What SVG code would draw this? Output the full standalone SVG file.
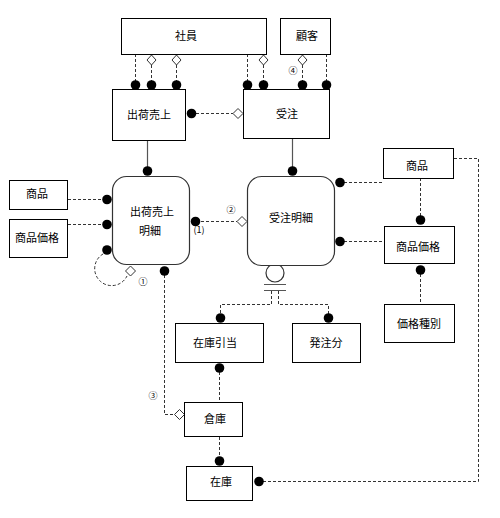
<svg xmlns="http://www.w3.org/2000/svg" width="500" height="518" viewBox="0 0 500 518">
<style>
.box{fill:#fff;stroke:#000;stroke-width:1}
.rbox{fill:#fff;stroke:#333;stroke-width:1.2}
.t{font-family:"Noto Sans CJK JP","Liberation Sans",sans-serif;font-size:11px;fill:#000;text-anchor:middle;dominant-baseline:central}
.n{font-family:"Noto Sans CJK JP","Liberation Sans",sans-serif;font-size:9px;fill:#000;text-anchor:middle;dominant-baseline:central}
.d{fill:none;stroke:#333;stroke-width:1;stroke-dasharray:3,2}
.s{fill:none;stroke:#555;stroke-width:1.2}
.dot{fill:#000}
.dia{fill:#fff;stroke:#333;stroke-width:1}
</style>
<rect width="500" height="518" fill="#fff"/>
<g id="connectors">
  <!-- 社員 -> 出荷売上 / 受注 -->
  <path class="d" d="M135.5,54 V81"/>
  <path class="d" d="M151.5,65 V81"/>
  <path class="d" d="M176.5,65 V81"/>
  <path class="d" d="M247.5,54 V81"/>
  <path class="d" d="M263.5,65 V81"/>
  <polygon class="dia" points="151.5,55 156,60 151.5,65 147,60"/>
  <polygon class="dia" points="176.5,55 181,60 176.5,65 172,60"/>
  <polygon class="dia" points="263.5,55 268,60 263.5,65 259,60"/>
  <circle class="dot" cx="135.5" cy="85" r="4.8"/>
  <circle class="dot" cx="151.5" cy="85" r="4.8"/>
  <circle class="dot" cx="176.5" cy="85" r="4.8"/>
  <circle class="dot" cx="247.5" cy="85" r="4.8"/>
  <circle class="dot" cx="263.5" cy="85" r="4.8"/>
  <!-- 顧客 -> 受注 -->
  <path class="d" d="M302.5,65 V81"/>
  <path class="d" d="M326.5,54 V81"/>
  <polygon class="dia" points="302.5,55 307,60 302.5,65 298,60"/>
  <circle class="dot" cx="302.5" cy="85" r="4.8"/>
  <circle class="dot" cx="326.5" cy="85" r="4.8"/>
  <!-- 出荷売上 -> 受注 -->
  <path class="d" d="M196,113.5 H233"/>
  <circle class="dot" cx="191.5" cy="113.5" r="4.8"/>
  <polygon class="dia" points="233,113.5 238,108.5 243,113.5 238,118.5"/>
  <!-- solid -->
  <path class="s" d="M147.5,141 V167"/>
  <circle class="dot" cx="147.5" cy="171" r="4.8"/>
  <path class="s" d="M292.5,139 V167"/>
  <circle class="dot" cx="292.5" cy="171" r="4.8"/>
  <!-- 商品/商品価格 (left) -> 出荷売上明細 -->
  <path class="d" d="M68,199.5 H103"/>
  <circle class="dot" cx="107" cy="199.5" r="4.8"/>
  <path class="d" d="M68,224.5 H103"/>
  <circle class="dot" cx="107" cy="224.5" r="4.8"/>
  <!-- self loop -->
  <path class="d" d="M103,254 A17,17 0 1 0 127,276"/>
  <circle class="dot" cx="107" cy="250" r="4.8"/>
  <polygon class="dia" points="130.5,266 135.5,271 130.5,276 125.5,271"/>
  <!-- 出荷売上明細 -> 受注明細 -->
  <path class="d" d="M196,221.5 H237"/>
  <circle class="dot" cx="195.5" cy="221.5" r="4.8"/>
  <polygon class="dia" points="237,221.5 242,216.5 247,221.5 242,226.5"/>
  <!-- 出荷売上明細 -> 倉庫 -->
  <path class="d" d="M164.5,275 V414.5 H175"/>
  <circle class="dot" cx="164.5" cy="271" r="4.8"/>
  <polygon class="dia" points="174.5,414.5 179.5,409.5 184.5,414.5 179.5,419.5"/>
  <!-- 受注明細 -> 商品 / 商品価格 -->
  <path class="d" d="M344,182.5 H383"/>
  <circle class="dot" cx="340" cy="182.5" r="4.8"/>
  <path class="d" d="M344,241.5 H384"/>
  <circle class="dot" cx="340" cy="241.5" r="4.8"/>
  <!-- 商品 -> 商品価格 -> 価格種別 -->
  <path class="d" d="M420.5,178 V216"/>
  <circle class="dot" cx="420.5" cy="220" r="4.8"/>
  <path class="d" d="M420.5,274 V304"/>
  <circle class="dot" cx="420.5" cy="270" r="4.8"/>
  <!-- 商品 -> 在庫 -->
  <path class="d" d="M454,158.5 H478.5 V481.5 H263"/>
  <circle class="dot" cx="259" cy="481.5" r="4.8"/>
  <!-- subtype -->
  <circle cx="275" cy="273" r="9" fill="#fff" stroke="#333" stroke-width="1.2"/>
  <path class="s" d="M264,284.5 H286 M264,290.5 H286"/>
  <path class="d" d="M271.5,291 V304.5 H220.5 V314"/>
  <path class="d" d="M278.5,291 V304.5 H328.5 V314"/>
  <circle class="dot" cx="220.5" cy="318" r="4.8"/>
  <circle class="dot" cx="328.5" cy="318" r="4.8"/>
  <!-- 在庫引当 -> 倉庫 -> 在庫 -->
  <path class="d" d="M219.5,372 V402"/>
  <circle class="dot" cx="219.5" cy="368" r="4.8"/>
  <path class="d" d="M219.5,437 V457"/>
  <circle class="dot" cx="219.5" cy="461" r="4.8"/>
  <!-- labels -->
  <text class="n" x="293" y="70">④</text>
  <text class="n" x="143" y="281">①</text>
  <text class="n" x="231" y="209">②</text>
  <text class="n" x="199" y="229">(1)</text>
  <text class="n" x="153" y="395">③</text>
</g>
<g id="shain"><rect class="box" x="121.5" y="18.5" width="145" height="36"/><text class="t" x="186" y="35">社員</text></g>
<g id="kokyaku"><rect class="box" x="280.5" y="18.5" width="50" height="36"/><text class="t" x="307" y="35">顧客</text></g>
<g id="shukka"><rect class="box" x="112.5" y="89.5" width="73" height="51"/><text class="t" x="149" y="114">出荷売上</text></g>
<g id="juchu"><rect class="box" x="243.5" y="89.5" width="86" height="49"/><text class="t" x="287" y="113">受注</text></g>
<g id="shohinL"><rect class="box" x="9.5" y="180.5" width="58" height="29"/><text class="t" x="37" y="193">商品</text></g>
<g id="kakakuL"><rect class="box" x="9.5" y="219.5" width="58" height="38"/><text class="t" x="37" y="237">商品価格</text></g>
<g id="shukkameisai"><rect class="rbox" x="112.5" y="176.5" width="77" height="88" rx="14"/><text class="t" x="152" y="211">出荷売上</text><text class="t" x="150" y="230">明細</text></g>
<g id="juchumeisai"><rect class="rbox" x="247.5" y="176.5" width="87" height="89" rx="14"/><text class="t" x="291" y="217">受注明細</text></g>
<g id="shohinR"><rect class="box" x="383.5" y="148.5" width="70" height="30"/><text class="t" x="417" y="165">商品</text></g>
<g id="kakakuR"><rect class="box" x="384.5" y="226.5" width="70" height="37"/><text class="t" x="418" y="246">商品価格</text></g>
<g id="kakakushubetsu"><rect class="box" x="384.5" y="304.5" width="70" height="38"/><text class="t" x="419" y="323">価格種別</text></g>
<g id="zaikohikiate"><rect class="box" x="175.5" y="323.5" width="88" height="39"/><text class="t" x="215" y="342">在庫引当</text></g>
<g id="hacchubun"><rect class="box" x="292.5" y="323.5" width="68" height="39"/><text class="t" x="326" y="342">発注分</text></g>
<g id="souko"><rect class="box" x="184.5" y="402.5" width="58" height="34"/><text class="t" x="215" y="418">倉庫</text></g>
<g id="zaiko"><rect class="box" x="186.5" y="466.5" width="66" height="34"/><text class="t" x="221" y="481">在庫</text></g>
</svg>
